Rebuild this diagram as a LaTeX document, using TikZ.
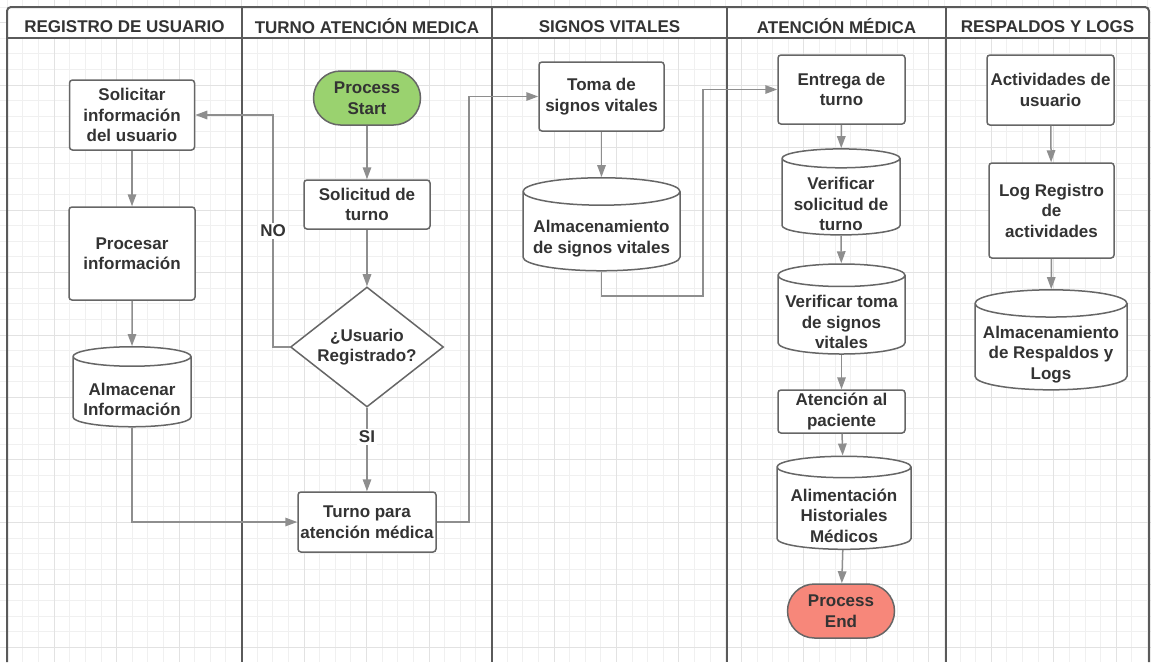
\documentclass[tikz,border=0pt]{standalone}
\usepackage{fontspec}
\setmainfont{Liberation Sans}
\usetikzlibrary{shapes.geometric,arrows.meta}

\definecolor{lanegray}{HTML}{5A5A5A}
\definecolor{boxgray}{HTML}{666666}
\definecolor{linegray}{HTML}{8E8E8E}
\definecolor{txtgray}{HTML}{333333}
\definecolor{gridminor}{HTML}{F0F0F0}
\definecolor{gridmajor}{HTML}{E2E2E2}
\definecolor{startgreen}{HTML}{9AD26F}
\definecolor{endred}{HTML}{F7877A}

% pushes the text of a cylinder down into its body
\newcommand{\dbpad}{\rule{0pt}{27pt}}

\begin{document}
\begin{tikzpicture}[x=1pt, y=-1pt, >={Triangle[length=12pt,width=8.5pt]},
    font=\fontsize{17}{20.5}\selectfont\bfseries]
    \tikzstyle{grid_minor} = [draw=gridminor, line width=1pt]
    \tikzstyle{grid_major} = [draw=gridmajor, line width=1pt]
    \tikzstyle{lane_line} = [draw=lanegray, line width=2pt]
    \tikzstyle{lane_title} = [text=txtgray, inner sep=0pt]
    \tikzstyle{box_style} = [rectangle, rounded corners=3pt, draw=boxgray, line width=1.5pt, fill=white, text=txtgray, align=center, inner sep=0pt]
    \tikzstyle{db_style} = [cylinder, shape border rotate=90, aspect=0.2, draw=boxgray, line width=1.5pt, fill=white, text=txtgray, align=center, inner xsep=0pt, inner ysep=-8pt]
    \tikzstyle{term_style} = [rectangle, rounded corners=27pt, draw=boxgray, line width=1.5pt, text=txtgray, align=center, inner sep=0pt, minimum width=107pt, minimum height=54pt]
    \tikzstyle{dec_style} = [diamond, draw=boxgray, line width=1.5pt, fill=white, text=txtgray, align=center, inner sep=-6pt, minimum width=153pt, minimum height=120pt]
    \tikzstyle{edge_style} = [draw=linegray, line width=1.5pt, ->]
    \tikzstyle{edge_label} = [fill=white, text=txtgray, inner sep=2pt]

    \useasboundingbox (0,0) rectangle (1151,662);
    \fill[white] (0,0) rectangle (1151,662);
    % background grid
    \foreach \i in {-1,...,73} \draw[grid_minor] ({7.3+15.62*\i},0) -- ({7.3+15.62*\i},662);
    \foreach \j in {-1,...,42} \draw[grid_minor] (0,{7+15.62*\j}) -- (1151,{7+15.62*\j});
    \foreach \i in {-1,3,...,71} \draw[grid_major] ({7.3+15.62*\i},0) -- ({7.3+15.62*\i},662);
    \foreach \j in {1,5,...,41} \draw[grid_major] (0,{7+15.62*\j}) -- (1151,{7+15.62*\j});

    % lanes
    \fill[white] (7,38) [rounded corners=4pt] -- (7,7) -- (1149,7) [sharp corners] -- (1149,38) -- cycle;
    \draw[lane_line] (7,662) [rounded corners=4pt] -- (7,7) -- (1149,7) [sharp corners] -- (1149,662);
    \draw[lane_line] (7,38) -- (1149,38);
    \draw[lane_line] (242,7) -- (242,662);
    \draw[lane_line] (492,7) -- (492,662);
    \draw[lane_line] (727,7) -- (727,662);
    \draw[lane_line] (946,7) -- (946,662);

    \node[lane_title] (t1) at (124.5,26.5) {REGISTRO DE USUARIO};
    \node[lane_title] (t2) at (367,26.5) {TURNO ATENCIÓN MEDICA};
    \node[lane_title] (t3) at (609.5,26.5) {SIGNOS VITALES};
    \node[lane_title] (t4) at (836.5,26.5) {ATENCIÓN MÉDICA};
    \node[lane_title] (t5) at (1047.5,26.5) {RESPALDOS Y LOGS};

    % registro de usuario
    \node[box_style, minimum width=125pt, minimum height=70pt] (sol_info) at (132,115) {Solicitar\\información\\del usuario};
    \node[box_style, minimum width=126pt, minimum height=93pt] (proc_info) at (132,253.5) {Procesar\\información};
    \node[db_style, minimum width=118pt, minimum height=80pt] (alm_info) at (132,392) {\dbpad Almacenar\\Información};

    % turno atencion medica
    \node[term_style, fill=startgreen] (p_start) at (367,98) {Process\\Start};
    \node[box_style, minimum width=126pt, minimum height=49pt] (sol_turno) at (367,204.5) {Solicitud de\\turno};
    \node[dec_style] (usr_reg) at (367,347) {¿Usuario\\Registrado?};
    \node[box_style, minimum width=138pt, minimum height=60pt] (turno_med) at (367,522) {Turno para\\atención médica};
    \coordinate (no_bend) at (273,347);

    % signos vitales
    \node[box_style, minimum width=125pt, minimum height=69pt] (toma) at (601.5,96.5) {Toma de\\signos vitales};
    \node[db_style, minimum width=157pt, minimum height=93pt] (alm_signos) at (601.5,231.5) {\dbpad Almacenamiento\\de signos vitales};
    \coordinate (sv_bend) at (703,296);

    % atencion medica
    \node[box_style, minimum width=127pt, minimum height=69pt] (entrega) at (841.5,89.5) {Entrega de\\turno};
    \node[db_style, minimum width=118pt, minimum height=86pt] (ver_sol) at (841,197) {\dbpad Verificar\\solicitud de\\turno};
    \node[db_style, minimum width=127pt, minimum height=90pt] (ver_toma) at (841.5,315) {\dbpad Verificar toma\\de signos\\vitales};
    \node[box_style, minimum width=127pt, minimum height=43pt] (atencion) at (841.5,411.5) {Atención al\\paciente};
    \node[db_style, minimum width=134pt, minimum height=93pt] (alim) at (844,508.5) {\dbpad Alimentación\\Historiales\\Médicos};
    \node[term_style, fill=endred] (p_end) at (841,611) {Process\\End};

    % respaldos y logs
    \node[box_style, minimum width=127pt, minimum height=70pt] (act) at (1050.5,90) {Actividades de\\usuario};
    \node[box_style, minimum width=125pt, minimum height=95pt] (log) at (1051.5,210.5) {Log Registro\\de\\actividades};
    \node[db_style, minimum width=152pt, minimum height=100pt] (alm_resp) at (1051,347) {\dbpad Almacenamiento\\de Respaldos y\\Logs};

    \draw[edge_style] (sol_info) -- (proc_info);
    \draw[edge_style] (proc_info) -- (alm_info);
    \draw[edge_style] (alm_info.south) |- (turno_med.west);
    \draw[edge_style] (p_start) -- (sol_turno);
    \draw[edge_style] (sol_turno) -- (usr_reg);
    \draw[edge_style] (usr_reg.south) -- node[edge_label, pos=0.35] {SI} (turno_med.north);
    \draw[edge_style] (usr_reg.west) -- (no_bend) |- node[edge_label, pos=0.25] {NO} (sol_info.east);
    \draw[edge_style] (turno_med.east) -- ++(32,0) |- (toma.west);
    \draw[edge_style] (toma) -- (alm_signos);
    \draw[edge_style] (alm_signos.south) |- (sv_bend) |- (entrega.west);
    \draw[edge_style] (entrega) -- (ver_sol);
    \draw[edge_style] (ver_sol) -- (ver_toma);
    \draw[edge_style] (ver_toma) -- (atencion);
    \draw[edge_style] (atencion) -- (alim);
    \draw[edge_style] (alim) -- (p_end);
    \draw[edge_style] (act) -- (log);
    \draw[edge_style] (log) -- (alm_resp);
\end{tikzpicture}
\end{document}
